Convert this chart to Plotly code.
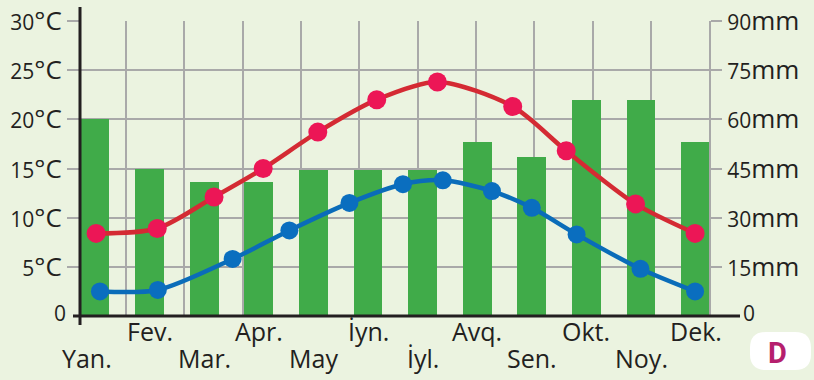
import plotly.graph_objects as go

# Month labels (Azerbaijani)
months = ["Yan.", "Fev.", "Mar.", "Apr.", "May", "İyn.", "İyl.", "Avq.", "Sen.", "Okt.", "Noy.", "Dek."]

# Monthly precipitation, mm (bars, right axis)
precip_mm = [60, 45, 41, 41, 44.5, 44.5, 44.5, 53, 48.5, 66, 66, 53]

# Upper temperature curve, °C (position along month axis, value)
red_pos = [0.02, 1.14, 2.18, 3.08, 4.08, 5.16, 6.27, 7.65, 8.63, 9.90, 10.99]
red_temp = [8.4, 8.9, 12.1, 15.0, 18.7, 22.0, 23.8, 21.3, 16.8, 11.4, 8.4]

# Lower temperature curve, °C
blue_pos = [0.09, 1.15, 2.52, 3.56, 4.66, 5.64, 6.37, 7.27, 8.00, 8.82, 9.99, 10.99]
blue_temp = [2.5, 2.65, 5.8, 8.7, 11.5, 13.4, 13.8, 12.7, 11.0, 8.3, 4.8, 2.5]

# Axis ticks
temp_ticks = [5, 10, 15, 20, 25, 30]
mm_ticks = [15, 30, 45, 60, 75, 90]

BG = "#ebf3e0"
GRID = "#a9a9a9"
AXIS = "#231f20"
GREEN = "#40ab49"
RED_LINE = "#d42a33"
RED_DOT = "#ec1656"
BLUE_LINE = "#0a6cb9"
BLUE_DOT = "#0a6ebf"
FONT = "Open Sans"
DIGIT_SIZE = 21


def small_digits(num):
    # numerals set a little smaller than the unit text
    return f"<span style='font-size:{DIGIT_SIZE}px'>{num}</span>"


temp_labels = [small_digits(t) + "°C" for t in temp_ticks]
mm_labels = [small_digits(m) + "mm" for m in mm_ticks]

W, H = 814, 380
ML, MR, MT, MB = 80, 105, 21, 64
PW, PH = W - ML - MR, H - MT - MB

X_RANGE = [-0.275, 11.245]
# vertical grid lines sit on their own spacing, independent of the bars
grid_start, grid_step = 0.568, 1.068
grid_x = [grid_start + grid_step * k for k in range(10)]


def px_x(px):
    return (px - ML) / PW


def px_y(py):
    return (H - MB - py) / PH


fig = go.Figure()

fig.add_trace(go.Bar(
    x=list(range(len(months))), y=precip_mm, yaxis="y",
    marker=dict(color=GREEN, line=dict(width=0)), width=0.53,
    hoverinfo="skip", showlegend=False,
))

fig.add_trace(go.Scatter(
    x=red_pos, y=red_temp, yaxis="y2", mode="lines+markers",
    line=dict(color=RED_LINE, width=4.5, shape="spline", smoothing=0.8),
    marker=dict(color=RED_DOT, size=19, line=dict(width=0)),
    hoverinfo="skip", showlegend=False,
))

fig.add_trace(go.Scatter(
    x=blue_pos, y=blue_temp, yaxis="y2", mode="lines+markers",
    line=dict(color=BLUE_LINE, width=4.5, shape="spline", smoothing=0.8),
    marker=dict(color=BLUE_DOT, size=18, line=dict(width=0)),
    hoverinfo="skip", showlegend=False,
))

tick_font = dict(family=FONT, size=26, color=AXIS)

fig.update_layout(
    width=W, height=H,
    margin=dict(l=ML, r=MR, t=MT, b=MB, pad=0, autoexpand=False),
    paper_bgcolor=BG, plot_bgcolor=BG,
    bargap=0,
    xaxis=dict(
        range=X_RANGE, tickmode="array", tickvals=grid_x,
        showticklabels=False, ticks="", showgrid=True,
        gridcolor=GRID, gridwidth=2, zeroline=False, showline=False,
        fixedrange=True, automargin=False,
    ),
    yaxis=dict(
        range=[0, 90], side="right", tickmode="array",
        tickvals=mm_ticks, ticktext=mm_labels, tickfont=tick_font,
        ticks="outside", ticklen=11, tickwidth=2, tickcolor=GRID,
        showline=True, linecolor=GRID, linewidth=2,
        showgrid=False, zeroline=False, fixedrange=True, automargin=False,
    ),
    yaxis2=dict(
        range=[0, 30], side="left", overlaying="y", tickmode="array",
        tickvals=temp_ticks, ticktext=temp_labels, tickfont=tick_font,
        ticks="outside", ticklen=12, tickwidth=2, tickcolor=GRID,
        showgrid=True, gridcolor=GRID, gridwidth=2,
        showline=False, zeroline=False, fixedrange=True, automargin=False,
    ),
)

# dark axis lines running past the plot corners
fig.add_shape(type="line", xref="paper", yref="paper",
              x0=0, x1=0, y0=px_y(325), y1=px_y(7),
              line=dict(color=AXIS, width=3), layer="above")
fig.add_shape(type="line", xref="paper", yref="paper",
              x0=px_x(73), x1=px_x(740), y0=0, y1=0,
              line=dict(color=AXIS, width=3), layer="above")

# zero labels at both ends of the base line
zero_font = dict(family=FONT, size=DIGIT_SIZE, color=AXIS)
fig.add_annotation(text="0", xref="paper", yref="paper", x=px_x(68), y=px_y(313),
                   xanchor="right", yanchor="middle", showarrow=False,
                   font=zero_font)
fig.add_annotation(text="0", xref="paper", yref="paper", x=px_x(741), y=px_y(313),
                   xanchor="left", yanchor="middle", showarrow=False,
                   font=zero_font)

# month labels in two staggered rows
for i, name in enumerate(months):
    row_y = 331 if i % 2 == 1 else 358
    fig.add_annotation(text=name, x=i, xref="x", y=px_y(row_y), yref="paper",
                       xanchor="center", yanchor="middle", showarrow=False,
                       xshift=-8 if i == 0 else 0,
                       font=dict(family=FONT, size=25, color=AXIS))

# rounded badge with the panel letter
x0, x1, y0, y1, r = 750, 811, 332, 370, 16
rx, ry = r / PW, r / PH
X0, X1, Y0, Y1 = px_x(x0), px_x(x1), px_y(y1), px_y(y0)
path = (f"M{X0 + rx},{Y0} L{X1 - rx},{Y0} Q{X1},{Y0} {X1},{Y0 + ry} "
        f"L{X1},{Y1 - ry} Q{X1},{Y1} {X1 - rx},{Y1} L{X0 + rx},{Y1} "
        f"Q{X0},{Y1} {X0},{Y1 - ry} L{X0},{Y0 + ry} Q{X0},{Y0} {X0 + rx},{Y0} Z")
fig.add_shape(type="path", path=path, xref="paper", yref="paper",
              fillcolor="white", line=dict(width=0), layer="above")
fig.add_annotation(text="<b>D</b>", xref="paper", yref="paper",
                   x=px_x(777), y=px_y(353), xanchor="center", yanchor="middle",
                   showarrow=False,
                   font=dict(family="Roboto", size=29, color="#b51f6e"))

fig.write_html("out.html", config={"displayModeBar": False})
